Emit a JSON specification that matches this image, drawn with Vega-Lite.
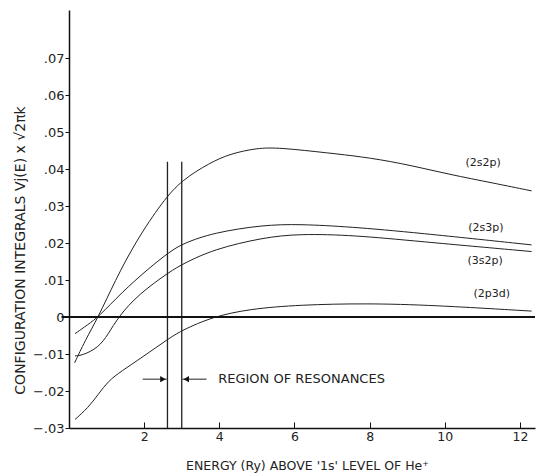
{
  "$schema": "https://vega.github.io/schema/vega-lite/v6.json",
  "width": 466,
  "height": 418,
  "autosize": "none",
  "padding": {"left": 69, "top": 10, "right": 10, "bottom": 47},
  "background": "white",
  "config": {
    "view": {"stroke": null},
    "font": "DejaVu Sans",
    "axis": {"grid": false, "domainColor": "#111", "domainWidth": 1.5, "tickColor": "#111", "labelColor": "#222", "titleColor": "#222", "labelFont": "DejaVu Sans", "titleFont": "DejaVu Sans", "titleFontWeight": "normal"}
  },
  "datasets": {
    "curves": [
      {"series": "2s2p", "x": 0.15, "y": -0.0124},
      {"series": "2s2p", "x": 0.42, "y": -0.0065},
      {"series": "2s2p", "x": 0.78, "y": 0.0},
      {"series": "2s2p", "x": 1.22, "y": 0.0097},
      {"series": "2s2p", "x": 1.78, "y": 0.0205},
      {"series": "2s2p", "x": 2.5, "y": 0.0314},
      {"series": "2s2p", "x": 3.0, "y": 0.037},
      {"series": "2s2p", "x": 3.75, "y": 0.0417},
      {"series": "2s2p", "x": 4.28, "y": 0.0441},
      {"series": "2s2p", "x": 5.0, "y": 0.0457},
      {"series": "2s2p", "x": 5.6, "y": 0.0458},
      {"series": "2s2p", "x": 6.94, "y": 0.0443},
      {"series": "2s2p", "x": 7.74, "y": 0.0434},
      {"series": "2s2p", "x": 8.8, "y": 0.0417},
      {"series": "2s2p", "x": 10.14, "y": 0.0385},
      {"series": "2s2p", "x": 11.3, "y": 0.0362},
      {"series": "2s2p", "x": 12.31, "y": 0.0341},
      {"series": "2s3p", "x": 0.16, "y": -0.0045},
      {"series": "2s3p", "x": 0.51, "y": -0.002},
      {"series": "2s3p", "x": 0.78, "y": 0.0},
      {"series": "2s3p", "x": 1.4, "y": 0.0066},
      {"series": "2s3p", "x": 2.1, "y": 0.013},
      {"series": "2s3p", "x": 2.7, "y": 0.0178},
      {"series": "2s3p", "x": 3.04, "y": 0.0199},
      {"series": "2s3p", "x": 3.84, "y": 0.0228},
      {"series": "2s3p", "x": 5.17, "y": 0.0249},
      {"series": "2s3p", "x": 6.14, "y": 0.0251},
      {"series": "2s3p", "x": 7.47, "y": 0.0244},
      {"series": "2s3p", "x": 9.25, "y": 0.0228},
      {"series": "2s3p", "x": 12.31, "y": 0.0195},
      {"series": "3s2p", "x": 0.16, "y": -0.0105},
      {"series": "3s2p", "x": 0.35, "y": -0.0104},
      {"series": "3s2p", "x": 0.78, "y": -0.0083},
      {"series": "3s2p", "x": 1.04, "y": -0.0047},
      {"series": "3s2p", "x": 1.31, "y": 0.0},
      {"series": "3s2p", "x": 1.84, "y": 0.0061},
      {"series": "3s2p", "x": 2.7, "y": 0.0124},
      {"series": "3s2p", "x": 3.04, "y": 0.0144},
      {"series": "3s2p", "x": 3.84, "y": 0.0183},
      {"series": "3s2p", "x": 5.17, "y": 0.0215},
      {"series": "3s2p", "x": 6.14, "y": 0.0225},
      {"series": "3s2p", "x": 7.6, "y": 0.0221},
      {"series": "3s2p", "x": 9.25, "y": 0.0205},
      {"series": "3s2p", "x": 12.31, "y": 0.0177},
      {"series": "2p3d", "x": 0.16, "y": -0.0277},
      {"series": "2p3d", "x": 0.51, "y": -0.0245},
      {"series": "2p3d", "x": 0.78, "y": -0.0209},
      {"series": "2p3d", "x": 1.04, "y": -0.0173},
      {"series": "2p3d", "x": 1.4, "y": -0.0146},
      {"series": "2p3d", "x": 1.93, "y": -0.011},
      {"series": "2p3d", "x": 2.7, "y": -0.0055},
      {"series": "2p3d", "x": 3.01, "y": -0.0036},
      {"series": "2p3d", "x": 3.8, "y": 0.0},
      {"series": "2p3d", "x": 4.81, "y": 0.0022},
      {"series": "2p3d", "x": 6.14, "y": 0.0033},
      {"series": "2p3d", "x": 7.92, "y": 0.0037},
      {"series": "2p3d", "x": 9.69, "y": 0.0032},
      {"series": "2p3d", "x": 12.31, "y": 0.0016}
    ],
    "resonance": [
      {"x": 2.62, "y": -0.03, "y2": 0.042},
      {"x": 3.0, "y": -0.03, "y2": 0.042}
    ],
    "zero": [{"x": -0.2, "x2": 12.4, "y": 0}],
    "arrows": [
      {"x": 1.96, "x2": 2.6, "y": -0.0168},
      {"x": 3.02, "x2": 3.66, "y": -0.0168}
    ],
    "heads": [
      {"x": 2.5, "y": -0.0168, "shape": "triangle-right"},
      {"x": 3.12, "y": -0.0168, "shape": "triangle-left"}
    ],
    "note": [{"x": 3.97, "y": -0.0168, "label": "REGION OF RESONANCES"}],
    "labels": [
      {"x": 11.02, "y": 0.0416, "label": "(2s2p)"},
      {"x": 11.09, "y": 0.0241, "label": "(2s3p)"},
      {"x": 11.07, "y": 0.0151, "label": "(3s2p)"},
      {"x": 11.25, "y": 0.0062, "label": "(2p3d)"}
    ]
  },
  "layer": [
    {
      "data": {"name": "curves"},
      "mark": {"type": "line", "interpolate": "basis", "color": "#222", "strokeWidth": 1, "clip": false},
      "encoding": {
        "x": {"field": "x", "type": "quantitative", "scale": {"domain": [0, 12.4], "nice": false, "zero": false},
          "axis": {"values": [2, 4, 6, 8, 10, 12], "tickSize": -6, "labelPadding": 8, "labelFontSize": 12.5, "title": "ENERGY (Ry) ABOVE  '1s'  LEVEL OF He⁺", "titleFontSize": 12.5, "titleX": 238, "titleY": 37, "titleBaseline": "middle", "titleAlign": "center"}},
        "y": {"field": "y", "type": "quantitative", "scale": {"domain": [-0.03, 0.083], "nice": false, "zero": false},
          "axis": {"values": [-0.03, -0.02, -0.01, 0, 0.01, 0.02, 0.03, 0.04, 0.05, 0.06, 0.07], "tickSize": 4, "labelPadding": 1, "labelFontSize": 13,
            "labelExpr": "datum.value == 0 ? '0' : replace(format(datum.value, '.2f'), '0.', '.')",
            "title": "CONFIGURATION  INTEGRALS  Vj(E) x √2πk", "titleFontSize": 14, "titleX": -49, "titleY": 240, "titleAngle": -90, "titleBaseline": "middle", "titleAlign": "center"}},
        "detail": {"field": "series"}
      }
    },
    {
      "data": {"name": "resonance"},
      "mark": {"type": "rule", "color": "#222", "strokeWidth": 1.3},
      "encoding": {"x": {"field": "x", "type": "quantitative"}, "y": {"field": "y", "type": "quantitative"}, "y2": {"field": "y2"}}
    },
    {
      "data": {"name": "zero"},
      "mark": {"type": "rule", "color": "#111", "strokeWidth": 2, "clip": false},
      "encoding": {"x": {"field": "x", "type": "quantitative"}, "x2": {"field": "x2"}, "y": {"field": "y", "type": "quantitative"}}
    },
    {
      "data": {"name": "arrows"},
      "mark": {"type": "rule", "color": "#222", "strokeWidth": 1},
      "encoding": {"x": {"field": "x", "type": "quantitative"}, "x2": {"field": "x2"}, "y": {"field": "y", "type": "quantitative"}}
    },
    {
      "data": {"name": "heads"},
      "mark": {"type": "point", "filled": true, "color": "#111", "size": 40, "opacity": 1},
      "encoding": {"x": {"field": "x", "type": "quantitative"}, "y": {"field": "y", "type": "quantitative"}, "shape": {"field": "shape", "type": "nominal", "scale": null, "legend": null}}
    },
    {
      "data": {"name": "note"},
      "mark": {"type": "text", "align": "left", "baseline": "middle", "fontSize": 13, "color": "#222"},
      "encoding": {"x": {"field": "x", "type": "quantitative"}, "y": {"field": "y", "type": "quantitative"}, "text": {"field": "label"}}
    },
    {
      "data": {"name": "labels"},
      "mark": {"type": "text", "align": "center", "baseline": "middle", "fontSize": 11, "color": "#222"},
      "encoding": {"x": {"field": "x", "type": "quantitative"}, "y": {"field": "y", "type": "quantitative"}, "text": {"field": "label"}}
    }
  ]
}
